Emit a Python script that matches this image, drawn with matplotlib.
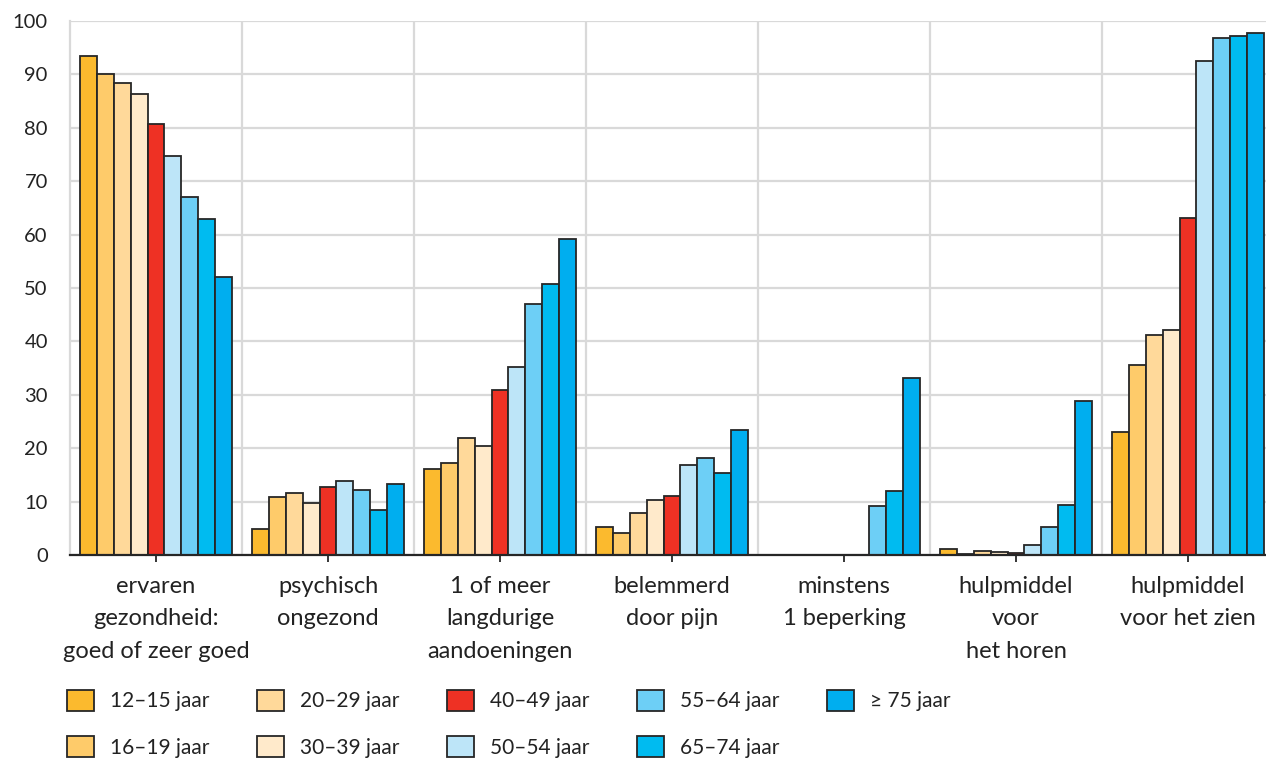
import numpy as np
import matplotlib.pyplot as plt
from matplotlib.patches import Patch

plt.rcParams['font.family'] = ['Lato', 'DejaVu Sans']

categories = [
    "ervaren\ngezondheid:\ngoed of zeer goed",
    "psychisch\nongezond",
    "1 of meer\nlangdurige\naandoeningen",
    "belemmerd\ndoor pijn",
    "minstens\n1 beperking",
    "hulpmiddel\nvoor\nhet horen",
    "hulpmiddel\nvoor het zien",
]
age_groups = ["12–15 jaar", "16–19 jaar", "20–29 jaar", "30–39 jaar", "40–49 jaar",
              "50–54 jaar", "55–64 jaar", "65–74 jaar", "≥ 75 jaar"]
colors = ["#FBBA2E", "#FECB6A", "#FFD99A", "#FFEACB", "#EE3124",
          "#BDE5F8", "#6DCFF6", "#00BBF0", "#00AEEF"]

# percentages per category, one value per age group
ervaren = [93.5, 90.0, 88.3, 86.3, 80.8, 74.7, 67.0, 63.0, 52.0]
psychisch = [4.9, 10.9, 11.6, 9.7, 12.8, 13.8, 12.1, 8.4, 13.3]
langdurig = [16.1, 17.3, 21.9, 20.4, 30.9, 35.2, 47.0, 50.8, 59.2]
pijn = [5.3, 4.2, 7.8, 10.3, 11.0, 16.8, 18.2, 15.4, 23.4]
beperking = [np.nan, np.nan, np.nan, np.nan, np.nan, np.nan, 9.2, 11.9, 33.2]
horen = [1.2, 0.1, 0.8, 0.5, 0.4, 1.8, 5.3, 9.3, 28.9]
zien = [23.1, 35.5, 41.2, 42.1, 63.1, 92.6, 96.9, 97.2, 97.7]

data = np.array([ervaren, psychisch, langdurig, pijn, beperking, horen, zien])

W, H = 1266, 760
fig = plt.figure(figsize=(W / 100, H / 100), dpi=100)
ax = fig.add_axes([70 / W, (H - 555) / H, 1204 / W, 534 / H])

x = np.arange(len(categories))
bw = 16.8 / 172
for j, (lab, col) in enumerate(zip(age_groups, colors)):
    vals = data[:, j]
    ok = ~np.isnan(vals)
    ax.bar(x[ok] + (j - 4) * bw, vals[ok], width=bw, color=col,
           edgecolor="#262626", linewidth=1.3, zorder=3)

ax.set_xlim(-0.5, 6.5)
ax.set_ylim(0, 100)
ax.set_yticks(np.arange(0, 101, 10))
ax.set_xticks(x)
ax.set_xticklabels(categories, fontsize=17, color="#222222", linespacing=1.68)
ax.set_xticks(np.arange(0.5, 6.5, 1), minor=True)

ax.grid(axis="y", color="#d9d9d9", linewidth=1.6, zorder=0)
ax.grid(axis="x", which="minor", color="#d9d9d9", linewidth=1.6, zorder=0)
ax.tick_params(axis="x", which="major", length=5, width=1.3, color="#262626", pad=10)
ax.tick_params(axis="x", which="minor", length=0)
ax.tick_params(axis="y", length=0, pad=16, labelsize=14.5, labelcolor="#222222")

for s in ["top", "right"]:
    ax.spines[s].set_visible(False)
ax.spines["left"].set_color("#d9d9d9")
ax.spines["left"].set_linewidth(1.6)
ax.spines["bottom"].set_color("#262626")
ax.spines["bottom"].set_linewidth(1.6)
ax.spines["bottom"].set_zorder(4)

handles = [Patch(facecolor=c, edgecolor="#262626", linewidth=1.3) for c in colors]
fig.legend(handles, age_groups, loc="upper left", bbox_to_anchor=(67 / W, 1 - 690 / H),
           ncol=5, frameon=False, fontsize=15, handlelength=1.3, handleheight=1.15,
           handletextpad=0.75, columnspacing=2.3, labelspacing=1.2, borderpad=0,
           borderaxespad=0, labelcolor="#222222")

fig.savefig("out.png", dpi=100)
